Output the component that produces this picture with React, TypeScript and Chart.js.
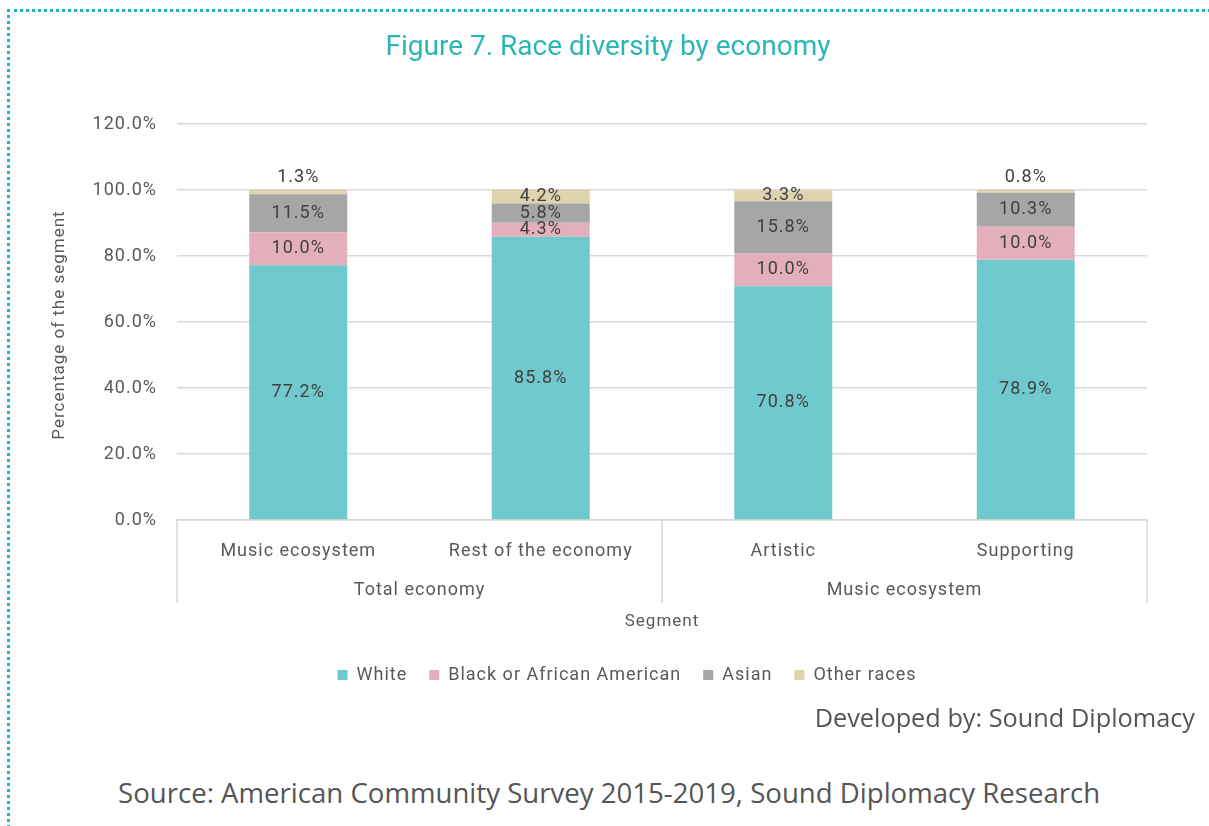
import React, { useEffect, useRef } from "react";
import { Chart, registerables } from "chart.js";

Chart.register(...registerables);

const categories = ["Music ecosystem", "Rest of the economy", "Artistic", "Supporting"];
const groupLabels = ["Total economy", "Music ecosystem"];
const groupSizes = [2, 2];
const seriesNames = ["White", "Black or African American", "Asian", "Other races"];
const white = [77.2, 85.8, 70.8, 78.9];
const black = [10.0, 4.3, 10.0, 10.0];
const asian = [11.5, 5.8, 15.8, 10.3];
const other = [1.3, 4.2, 3.3, 0.8];
const colors = ["#70c9cc", "#e4afbc", "#a6a6a6", "#ddd3ae"];
const yTicks = [0, 20, 40, 60, 80, 100, 120];
const yTitle = "Percentage of the segment";
const xTitle = "Segment";

const FONT = "Roboto, 'Open Sans', sans-serif";
const TEXT = "#595959";
const GRID = "#d9d9d9";
const SPACING = "1px";

const spacingPlugin = {
  id: "spacingPlugin",
  beforeUpdate(chart: any) {
    chart.ctx.letterSpacing = SPACING;
  },
  beforeLayout(chart: any) {
    chart.ctx.letterSpacing = SPACING;
  },
  afterLayout(chart: any) {
    // centre the legend under the whole figure, as in the original
    const lg = chart.legend;
    if (lg) {
      const shift = 627 - (lg.left + lg.right) / 2;
      lg.left += shift;
      lg.right += shift;
    }
  },
  beforeDraw(chart: any) {
    chart.ctx.letterSpacing = SPACING;
  },
};

const groupPlugin = {
  id: "groupPlugin",
  afterDraw(chart: any) {
    const { ctx, chartArea } = chart;
    const x = chart.scales.x;
    const bottom = chartArea.bottom;
    ctx.save();
    ctx.letterSpacing = SPACING;
    ctx.strokeStyle = GRID;
    ctx.lineWidth = 1.5;
    const seps: number[] = [x.left];
    let idx = 0;
    const centers: number[] = [];
    groupSizes.forEach((n) => {
      const first = x.getPixelForValue(idx);
      const last = x.getPixelForValue(idx + n - 1);
      centers.push((first + last) / 2);
      idx += n;
      if (idx < categories.length) {
        seps.push((x.getPixelForValue(idx - 1) + x.getPixelForValue(idx)) / 2);
      }
    });
    seps.push(x.right);
    seps.forEach((sx) => {
      ctx.beginPath();
      ctx.moveTo(sx, bottom);
      ctx.lineTo(sx, bottom + 83);
      ctx.stroke();
    });
    ctx.fillStyle = TEXT;
    ctx.font = `18px ${FONT}`;
    ctx.textAlign = "center";
    ctx.textBaseline = "middle";
    groupLabels.forEach((g, i) => ctx.fillText(g, centers[i], bottom + 70));
    ctx.font = `17px ${FONT}`;
    ctx.fillText(xTitle, (x.left + x.right) / 2, bottom + 102);
    ctx.translate(60, (chartArea.top + chartArea.bottom) / 2 + 3);
    ctx.rotate(-Math.PI / 2);
    ctx.fillText(yTitle, 0, 0);
    ctx.restore();
  },
  afterDatasetsDraw(chart: any) {
    const { ctx } = chart;
    ctx.save();
    ctx.letterSpacing = SPACING;
    ctx.fillStyle = "#404040";
    ctx.font = `18px ${FONT}`;
    ctx.textAlign = "center";
    ctx.textBaseline = "middle";
    chart.data.datasets.forEach((ds: any, di: number) => {
      const meta = chart.getDatasetMeta(di);
      meta.data.forEach((bar: any, i: number) => {
        const v = ds.data[i];
        const label = v.toFixed(1) + "%";
        let y = (bar.y + bar.base) / 2;
        if (v < 2) y = bar.y - 13;
        ctx.fillText(label, bar.x, y);
      });
    });
    ctx.restore();
  },
};

export default function App() {
  const ref = useRef<HTMLCanvasElement>(null);
  useEffect(() => {
    document.documentElement.style.overflow = "hidden";
    const chart = new Chart(ref.current!, {
      type: "bar",
      data: {
        labels: categories,
        datasets: [white, black, asian, other].map((d, i) => ({
          label: seriesNames[i],
          data: d,
          backgroundColor: colors[i],
          borderWidth: 0,
          barPercentage: 0.404,
          categoryPercentage: 1,
        })),
      },
      options: {
        responsive: false,
        animation: false,
        layout: { padding: { left: 0, right: 62, top: 124, bottom: 10 } },
        plugins: {
          title: { display: false },
          legend: {
            position: "bottom",
            labels: {
              color: TEXT,
              font: { family: FONT, size: 18 },
              boxWidth: 10,
              boxHeight: 10,
              padding: 22,
            },
          },
          tooltip: { enabled: false },
        },
        scales: {
          x: {
            stacked: true,
            grid: { display: false },
            border: { color: GRID, width: 1.5 },
            ticks: { color: TEXT, font: { family: FONT, size: 18 }, padding: 13 },
            afterFit(scale: any) {
              scale.height = 124;
            },
          },
          y: {
            stacked: true,
            min: 0,
            max: 120,
            afterBuildTicks(scale: any) {
              scale.ticks = yTicks.map((v) => ({ value: v }));
            },
            ticks: {
              color: TEXT,
              font: { family: FONT, size: 18 },
              padding: 20,
              callback: (v: any) => Number(v).toFixed(1) + "%",
            },
            grid: { color: GRID, lineWidth: 1.5, drawTicks: false },
            border: { display: false },
            title: { display: false },
            afterFit(scale: any) {
              scale.width = 177;
            },
          },
        },
      },
      plugins: [spacingPlugin, groupPlugin],
    });
    return () => chart.destroy();
  }, []);

  return (
    <div style={{ position: "absolute", left: 0, top: 0, width: 1209, height: 826, overflow: "hidden", background: "#fff" }}>
      <div
        style={{
          position: "absolute",
          left: 7,
          top: 9,
          width: 1220,
          height: 840,
          borderTop: "3px dotted #1cb8b8",
          borderLeft: "3px dotted #1cb8b8",
        }}
      />
      <canvas ref={ref} width={1209} height={704} style={{ position: "absolute", left: 0, top: 0 }} />
      <div
        style={{
          position: "absolute",
          left: 0,
          width: 1216,
          top: 29,
          textAlign: "center",
          fontFamily: FONT,
          fontSize: 28,
          color: "#2bb7b7",
          whiteSpace: "nowrap",
        }}
      >
        Figure 7. Race diversity by economy
      </div>
      <div
        style={{
          position: "absolute",
          right: 14,
          top: 700,
          fontFamily: "'Open Sans', sans-serif",
          fontSize: 25.3,
          color: "#555",
          whiteSpace: "nowrap",
        }}
      >
        Developed by: Sound Diplomacy
      </div>
      <div
        style={{
          position: "absolute",
          left: 118,
          top: 773,
          fontFamily: "'Open Sans', sans-serif",
          fontSize: 27.6,
          color: "#555",
          whiteSpace: "nowrap",
        }}
      >
        Source: American Community Survey 2015-2019, Sound Diplomacy Research
      </div>
    </div>
  );
}
